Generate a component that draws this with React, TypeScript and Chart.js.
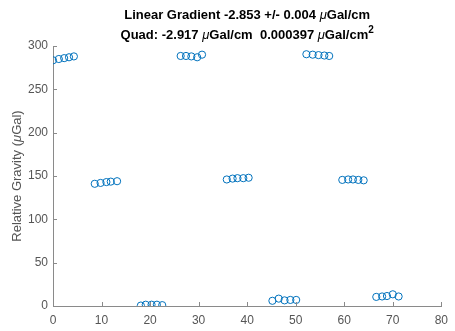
import React, { useEffect, useRef } from "react";
import { Chart, registerables } from "chart.js";

Chart.register(...registerables);

// Station position (cm) and relative gravity (µGal)
const distance = [
  0.0, 1.2, 2.3, 3.3, 4.3,
  8.6, 9.8, 11.0, 11.9, 13.2,
  18.1, 19.1, 20.3, 21.4, 22.5,
  26.3, 27.4, 28.5, 29.7, 30.7,
  35.8, 37.0, 38.0, 39.2, 40.3,
  45.2, 46.5, 47.7, 48.9, 50.1,
  52.2, 53.5, 54.7, 55.9, 56.9,
  59.6, 60.8, 61.8, 62.9, 64.0,
  66.6, 67.8, 68.8, 70.0, 71.2,
];
const gravity = [
  283.5, 285, 286, 287, 288,
  141, 142, 143, 143.5, 144,
  0.5, 1.5, 1.5, 1.5, 1,
  288.5, 288.5, 288, 287, 290,
  146, 147, 147.5, 147.5, 148,
  6, 8.5, 6.5, 7, 7,
  290.5, 290, 289.5, 289, 288.5,
  145.5, 146, 146, 145.5, 145,
  10.5, 11, 11.5, 13.5, 11,
];
const xTicks = [0, 10, 20, 30, 40, 50, 60, 70, 80];
const yTicks = [0, 50, 100, 150, 200, 250, 300];

const FONT = "'Liberation Sans', Arial, Helvetica, sans-serif";
const AXIS = "#8a8a8a";
const LABEL = "#555555";
const BLUE = "rgb(0,114,189)";

type Seg = { t: string; font: string; dy?: number };

function drawRich(ctx: CanvasRenderingContext2D, segs: Seg[], cx: number, cy: number) {
  let total = 0;
  for (const s of segs) {
    ctx.font = s.font;
    total += ctx.measureText(s.t).width;
  }
  let x = cx - total / 2;
  ctx.textAlign = "left";
  ctx.textBaseline = "middle";
  for (const s of segs) {
    ctx.font = s.font;
    ctx.fillText(s.t, x, cy + (s.dy || 0));
    x += ctx.measureText(s.t).width;
  }
}

const decor = {
  id: "decor",
  afterDraw(chart: any) {
    const ctx: CanvasRenderingContext2D = chart.ctx;
    const xs = chart.scales.x;
    const ys = chart.scales.y;
    const a = chart.chartArea;
    ctx.save();
    ctx.strokeStyle = AXIS;
    ctx.lineWidth = 1;
    for (const t of xTicks) {
      const px = Math.round(xs.getPixelForValue(t)) + 0.5;
      ctx.beginPath();
      ctx.moveTo(px, a.bottom);
      ctx.lineTo(px, a.bottom - 4);
      ctx.stroke();
    }
    for (const t of yTicks) {
      const py = Math.round(ys.getPixelForValue(t)) + 0.5;
      ctx.beginPath();
      ctx.moveTo(a.left, py);
      ctx.lineTo(a.left + 4, py);
      ctx.stroke();
    }
    // Title
    const cx = (a.left + a.right) / 2;
    const B = `bold 13px ${FONT}`;
    const M = `italic 13px ${FONT}`;
    ctx.fillStyle = "#000";
    drawRich(ctx, [
      { t: "Linear Gradient -2.853 +/- 0.004 ", font: B },
      { t: "μ", font: M },
      { t: "Gal/cm", font: B },
    ], cx, 15);
    drawRich(ctx, [
      { t: "Quad: -2.917 ", font: B },
      { t: "μ", font: M },
      { t: "Gal/cm  0.000397 ", font: B },
      { t: "μ", font: M },
      { t: "Gal/cm", font: B },
      { t: "2", font: `bold 10px ${FONT}`, dy: -5 },
    ], cx, 35);
    // Y axis label
    ctx.fillStyle = LABEL;
    ctx.translate(17, (a.top + a.bottom) / 2);
    ctx.rotate(-Math.PI / 2);
    drawRich(ctx, [
      { t: "Relative Gravity (", font: `13px ${FONT}` },
      { t: "μ", font: `italic 13px ${FONT}` },
      { t: "Gal)", font: `13px ${FONT}` },
    ], 0, 0);
    ctx.restore();
  },
};

export default function App() {
  const ref = useRef<HTMLCanvasElement>(null);
  useEffect(() => {
    document.body.style.margin = "0";
    const points = distance.map((d, i) => ({ x: d, y: gravity[i] }));
    const chart = new Chart(ref.current!, {
      type: "scatter",
      data: {
        datasets: [
          {
            data: points,
            showLine: false,
            pointStyle: "circle",
            pointRadius: 3.6,
            pointBorderWidth: 1,
            borderColor: BLUE,
            backgroundColor: "rgba(0,0,0,0)",
            pointBackgroundColor: "rgba(0,0,0,0)",
          },
        ],
      },
      options: {
        responsive: false,
        animation: false,
        layout: { padding: { top: 46, right: 10, left: 0, bottom: 0 } },
        plugins: { legend: { display: false }, tooltip: { enabled: false }, title: { display: false } },
        scales: {
          x: {
            type: "linear",
            min: 0,
            max: 80,
            afterBuildTicks: (s: any) => { s.ticks = xTicks.map((v) => ({ value: v })); },
            afterFit: (s: any) => { s.height = 25; },
            grid: { display: false, drawTicks: false },
            border: { display: true, color: AXIS, width: 1 },
            ticks: { padding: 7, color: LABEL, font: { family: FONT, size: 12 }, maxRotation: 0 },
          },
          y: {
            type: "linear",
            min: 0,
            max: 300,
            afterBuildTicks: (s: any) => { s.ticks = yTicks.map((v) => ({ value: v })); },
            afterFit: (s: any) => { s.width = 53; },
            grid: { display: false, drawTicks: false },
            border: { display: true, color: AXIS, width: 1 },
            ticks: { padding: 5, color: LABEL, font: { family: FONT, size: 12 } },
          },
        },
      },
      plugins: [decor],
    });
    return () => chart.destroy();
  }, []);
  return (
    <div style={{ width: 455, height: 331, background: "#fff" }}>
      <canvas ref={ref} width={455} height={331} />
    </div>
  );
}
